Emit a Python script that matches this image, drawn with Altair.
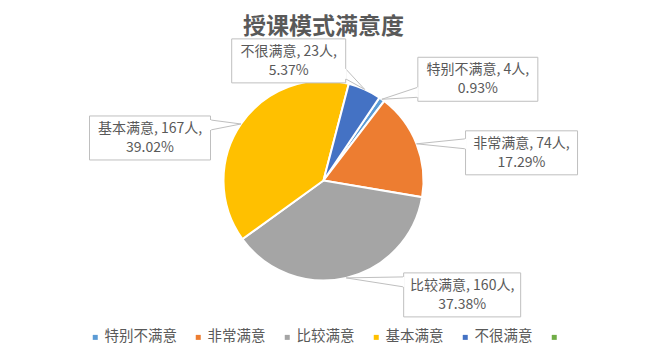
import math
import altair as alt
import pandas as pd

# ---- data ----
title_text = "授课模式满意度"
categories = ["特别不满意", "非常满意", "比较满意", "基本满意", "不很满意"]
counts = [4, 74, 160, 167, 23]
colors = ["#5B9BD5", "#ED7D31", "#A5A5A5", "#FFC000", "#4472C4", "#70AD47"]

# ---- callout layout (offset of box centre from slice edge, box width) ----
label_dx = [96, 105, 116, -91, -76]
label_dy = [-20, 9, 17, 14, -28.5]
box_w = [120, 112, 117, 121, 114]
BOX_H = 44

W, H = 633, 346
CX, CY, R = 315.5, 172.5, 100
START = math.radians(34)
FONT = "Noto Sans CJK SC"
TXT = "#595959"
LINE = "#BFBFBF"

df = pd.DataFrame({
    "category": categories,
    "count": counts,
    "idx": list(range(len(categories))),
    "dx": label_dx,
    "dy": label_dy,
    "w": box_w,
})

color = alt.Color(
    "category:N",
    scale=alt.Scale(domain=categories + [" "], range=colors),
    legend=alt.Legend(
        orient="none", direction="horizontal", legendX=80, legendY=322,
        title=None, symbolType="square", symbolSize=25, symbolStrokeWidth=0,
        labelFontSize=14.5, labelColor=TXT, labelFont=FONT, labelOffset=2,
        columnPadding=14, padding=0,
    ),
)

pie = alt.Chart(df).mark_arc(radius=R, stroke="white", strokeWidth=2).encode(
    theta=alt.Theta("count:Q", stack=True,
                    scale=alt.Scale(range=[START, START + 2 * math.pi])),
    color=color,
    order=alt.Order("idx:Q"),
    x=alt.value(CX),
    y=alt.value(CY),
)

geo = (
    alt.Chart(df)
    .transform_joinaggregate(total="sum(count)")
    .transform_window(cum="sum(count)", sort=[alt.SortField("idx")], frame=[None, 0])
    .transform_calculate(mid=f"{START} + 2*PI*(datum.cum - datum.count/2)/datum.total")
    .transform_calculate(ax=f"{CX} + {R}*sin(datum.mid)", ay=f"{CY} - {R}*cos(datum.mid)")
    .transform_calculate(bx="datum.ax + datum.dx", by="datum.ay + datum.dy")
    .transform_calculate(
        left="datum.bx - datum.w/2", right="datum.bx + datum.w/2",
        top=f"datum.by - {BOX_H/2}", bottom=f"datum.by + {BOX_H/2}",
    )
    .transform_calculate(
        ex="datum.dx > 0 ? datum.left : datum.right",
        bc="clamp(datum.ay, datum.top + 9, datum.bottom - 9)",
    )
    .transform_calculate(
        b1="datum.bc - 5", b2="datum.bc + 5",
        line1="datum.category + ', ' + datum.count + '人,'",
        line2="format(datum.count / datum.total * 100, '.2f') + '%'",
    )
)

def px(field):
    return alt.X(f"{field}:Q", scale=None, axis=None)

def py(field):
    return alt.Y(f"{field}:Q", scale=None, axis=None)

wedge1 = geo.mark_rule(color=LINE, strokeWidth=1).encode(
    x=px("ax"), y=py("ay"), x2="ex:Q", y2="b1:Q")
wedge2 = geo.mark_rule(color=LINE, strokeWidth=1).encode(
    x=px("ax"), y=py("ay"), x2="ex:Q", y2="b2:Q")
boxes = geo.mark_rect(fill="white", stroke=LINE, strokeWidth=1).encode(
    x=px("left"), x2="right:Q", y=py("top"), y2="bottom:Q")
gap = geo.mark_rule(color="white", strokeWidth=1.5).encode(
    x=px("ex"), x2="ex:Q", y=py("b1"), y2="b2:Q")
text1 = geo.mark_text(font=FONT, fontSize=14, color=TXT, baseline="middle").encode(
    x=px("bx"), y=alt.Y("t1:Q", scale=None, axis=None), text="line1:N"
).transform_calculate(t1="datum.by - 9")
text2 = geo.mark_text(font=FONT, fontSize=14, color=TXT, baseline="middle").encode(
    x=px("bx"), y=alt.Y("t2:Q", scale=None, axis=None), text="line2:N"
).transform_calculate(t2="datum.by + 10")

title = alt.Chart(pd.DataFrame({"t": [title_text]})).mark_text(
    font=FONT, fontSize=23, fontWeight="bold", color=TXT, baseline="middle"
).encode(x=alt.value(CX), y=alt.value(19), text="t:N")

chart = alt.layer(pie, wedge1, wedge2, boxes, gap, text1, text2, title).properties(
    width=W, height=H,
    autosize=alt.AutoSizeParams(type="none"),
    padding=0,
    background="white",
).configure_view(stroke=None)

chart.save("out.html", embed_options={"renderer": "svg", "actions": False})
